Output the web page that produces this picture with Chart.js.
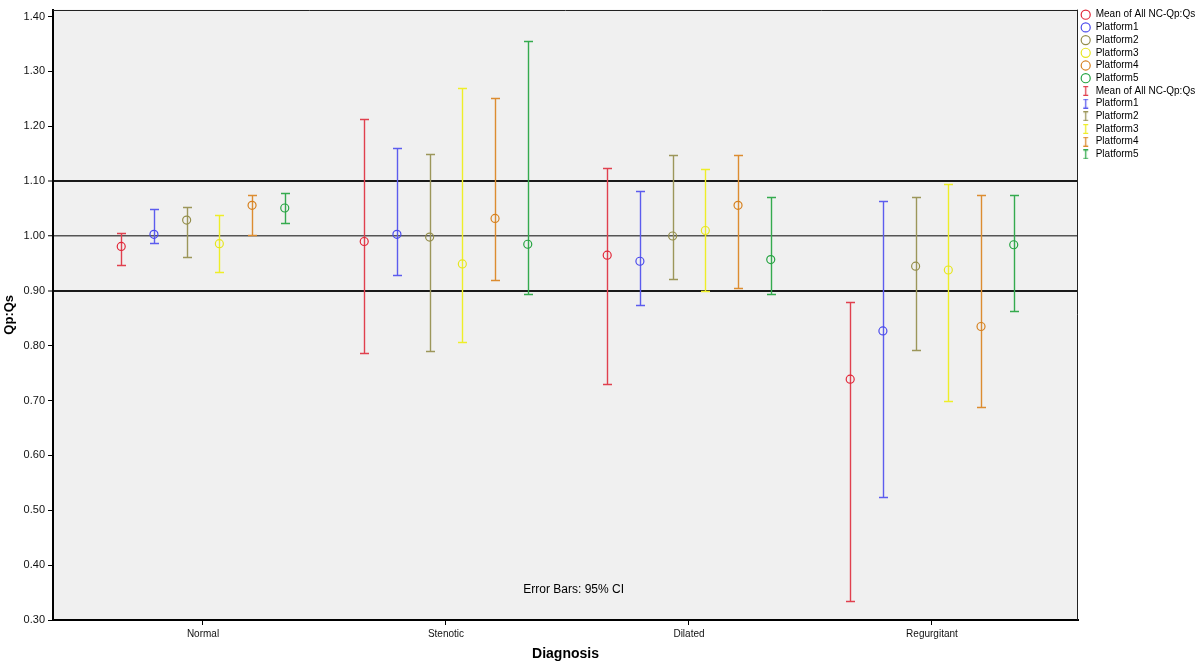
<!DOCTYPE html>
<html><head><meta charset="utf-8">
<script src="https://cdn.jsdelivr.net/npm/chart.js@4.4.1/dist/chart.umd.min.js"></script>
<style>html,body{margin:0;padding:0;background:#fff;}</style>
</head><body>
<canvas id="c" width="1200" height="670"></canvas>
<script>
// ---- data ----
const categories = ['Normal', 'Stenotic', 'Dilated', 'Regurgitant'];
const seriesNames = ['Mean of All NC-Qp:Qs', 'Platform1', 'Platform2', 'Platform3', 'Platform4', 'Platform5'];

const meanAll = [0.981, 0.990, 0.965, 0.739];
const platform1 = [1.003, 1.003, 0.954, 0.827];
const platform2 = [1.029, 0.998, 1.000, 0.945];
const platform3 = [0.986, 0.949, 1.010, 0.938];
const platform4 = [1.056, 1.032, 1.056, 0.835];
const platform5 = [1.051, 0.985, 0.957, 0.984];

const meanAllLow = [0.947, 0.787, 0.730, 0.334];
const platform1Low = [0.988, 0.928, 0.875, 0.525];
const platform2Low = [0.962, 0.790, 0.922, 0.793];
const platform3Low = [0.934, 0.807, 0.899, 0.700];
const platform4Low = [1.001, 0.920, 0.905, 0.688];
const platform5Low = [1.024, 0.895, 0.895, 0.864];

const meanAllHigh = [1.006, 1.214, 1.124, 0.880];
const platform1High = [1.049, 1.160, 1.082, 1.064];
const platform2High = [1.053, 1.149, 1.147, 1.071];
const platform3High = [1.038, 1.269, 1.123, 1.095];
const platform4High = [1.074, 1.251, 1.147, 1.074];
const platform5High = [1.078, 1.356, 1.071, 1.075];

const yTickValues = [0.30, 0.40, 0.50, 0.60, 0.70, 0.80, 0.90, 1.00, 1.10, 1.20, 1.30, 1.40];
const yTickLabels = ['0.30', '0.40', '0.50', '0.60', '0.70', '0.80', '0.90', '1.00', '1.10', '1.20', '1.30', '1.40'];
const refLines = [0.90, 1.00, 1.10];
const noteText = 'Error Bars: 95% CI';

// ---- styles ----
const FONT = '"Liberation Sans", Arial, Helvetica, sans-serif';
const markerColors = ['#e2283a', '#4a4aec', '#948e4c', '#e6e620', '#d6801e', '#26a442'];
const barColors = ['#e0404e', '#5c5cee', '#9c965a', '#eeee28', '#dc8c30', '#34aa4e'];
const DODGE = 0.1346;

const means = [meanAll, platform1, platform2, platform3, platform4, platform5];
const lows = [meanAllLow, platform1Low, platform2Low, platform3Low, platform4Low, platform5Low];
const highs = [meanAllHigh, platform1High, platform2High, platform3High, platform4High, platform5High];

Chart.defaults.font.family = FONT;
Chart.defaults.color = '#000';

const datasets = seriesNames.map((name, s) => ({
  label: name,
  data: categories.map((c, i) => ({ x: i + (s - 2.5) * DODGE, y: means[s][i] })),
  low: lows[s],
  high: highs[s],
  barColor: barColors[s],
  showLine: false,
  pointStyle: 'circle',
  pointRadius: 4,
  pointHoverRadius: 4,
  pointBorderWidth: 1.2,
  borderColor: markerColors[s],
  pointBorderColor: markerColors[s],
  backgroundColor: 'rgba(0,0,0,0)',
  pointBackgroundColor: 'rgba(0,0,0,0)'
}));

function iconCanvas(color) {
  const cv = document.createElement('canvas');
  cv.width = 7; cv.height = 10;
  const g = cv.getContext('2d');
  g.strokeStyle = color; g.lineWidth = 1.3;
  g.beginPath();
  g.moveTo(1, 0.7); g.lineTo(6, 0.7);
  g.moveTo(3.5, 0.7); g.lineTo(3.5, 9.3);
  g.moveTo(1, 9.3); g.lineTo(6, 9.3);
  g.stroke();
  return cv;
}

const plotBg = {
  id: 'plotBg',
  beforeDraw(chart) {
    const { ctx, chartArea: a } = chart;
    ctx.save();
    ctx.fillStyle = '#f0f0f0';
    ctx.fillRect(a.left, a.top, a.right - a.left, a.bottom - a.top);
    ctx.restore();
  }
};

const errorBars = {
  id: 'errorBars',
  beforeDatasetsDraw(chart) {
    const { ctx } = chart;
    const ys = chart.scales.y;
    ctx.save();
    ctx.lineWidth = 1.4;
    chart.data.datasets.forEach((ds, s) => {
      const meta = chart.getDatasetMeta(s);
      ctx.strokeStyle = ds.barColor;
      meta.data.forEach((pt, j) => {
        const x = Math.round(pt.x) + 0.5;
        const yl = Math.round(ys.getPixelForValue(ds.low[j])) + 0.5;
        const yh = Math.round(ys.getPixelForValue(ds.high[j])) + 0.5;
        ctx.beginPath();
        ctx.moveTo(x, yh); ctx.lineTo(x, yl);
        ctx.moveTo(x - 4.5, yh); ctx.lineTo(x + 4.5, yh);
        ctx.moveTo(x - 4.5, yl); ctx.lineTo(x + 4.5, yl);
        ctx.stroke();
      });
    });
    ctx.restore();
  }
};

const frameNote = {
  id: 'frameNote',
  afterDraw(chart) {
    const { ctx, chartArea: a } = chart;
    ctx.save();
    ctx.strokeStyle = '#222';
    ctx.lineWidth = 1;
    ctx.beginPath();
    ctx.moveTo(a.left, Math.round(a.top) + 0.5); ctx.lineTo(a.right, Math.round(a.top) + 0.5);
    ctx.moveTo(Math.round(a.right) - 0.5, a.top); ctx.lineTo(Math.round(a.right) - 0.5, a.bottom);
    ctx.stroke();
    ctx.fillStyle = '#000';
    ctx.font = '12px ' + FONT;
    ctx.textAlign = 'center';
    ctx.textBaseline = 'middle';
    ctx.fillText(noteText, a.left + 0.508 * (a.right - a.left), a.bottom - 30);
    ctx.restore();
  }
};

function isRef(v) { return refLines.some(r => Math.abs(r - v) < 1e-6); }

new Chart(document.getElementById('c'), {
  type: 'scatter',
  data: { datasets },
  options: {
    responsive: false,
    devicePixelRatio: 1,
    animation: false,
    layout: { padding: { top: 7, left: 0, right: 0, bottom: 0 } },
    plugins: {
      tooltip: { enabled: false },
      legend: {
        position: 'right',
        align: 'start',
        maxWidth: 122,
        onClick: null,
        labels: {
          usePointStyle: true,
          boxWidth: 10,
          boxHeight: 6.4,
          padding: 2.7,
          color: '#000',
          font: { size: 10, family: FONT },
          generateLabels: () => {
            const items = [];
            seriesNames.forEach((n, i) => items.push({
              text: n, fillStyle: 'rgba(0,0,0,0)', strokeStyle: markerColors[i], lineWidth: 1.2,
              pointStyle: 'circle', hidden: false, datasetIndex: i, fontColor: '#000'
            }));
            seriesNames.forEach((n, i) => items.push({
              text: n, fillStyle: 'rgba(0,0,0,0)', strokeStyle: barColors[i], lineWidth: 1,
              pointStyle: iconCanvas(barColors[i]), hidden: false, datasetIndex: i, fontColor: '#000'
            }));
            return items;
          }
        }
      }
    },
    scales: {
      x: {
        type: 'linear',
        min: -0.6173,
        max: 3.601,
        afterBuildTicks: s => { s.ticks = categories.map((c, i) => ({ value: i })); },
        afterFit: s => { s.height = 50; },
        ticks: { callback: (v, i) => categories[i], autoSkip: false, maxRotation: 0, color: '#111', font: { size: 10 }, padding: 3 },
        grid: { drawOnChartArea: false, drawTicks: true, tickLength: 5, tickColor: '#000', color: '#000', tickWidth: 1 },
        border: { display: true, color: '#000', width: 2 },
        title: { display: true, text: 'Diagnosis', color: '#000', font: { size: 14, weight: 'bold' }, padding: { top: 4, bottom: 7 } }
      },
      y: {
        type: 'linear',
        min: 0.30,
        max: 1.4127,
        afterBuildTicks: s => { s.ticks = yTickValues.map(v => ({ value: v })); },
        afterFit: s => { s.width = 53; },
        ticks: { callback: (v, i) => yTickLabels[i], autoSkip: false, color: '#111', font: { size: 11 }, padding: 3 },
        grid: {
          drawOnChartArea: true,
          drawTicks: true,
          tickLength: 5,
          tickColor: '#000',
          tickWidth: 1,
          color: c => (c.tick && isRef(c.tick.value)) ? (Math.abs(c.tick.value - 1) < 1e-6 ? '#555' : '#1a1a1a') : 'rgba(0,0,0,0)',
          lineWidth: c => (c.tick && isRef(c.tick.value)) ? (Math.abs(c.tick.value - 1) < 1e-6 ? 1.5 : 2) : 1
        },
        border: { display: true, color: '#000', width: 2 },
        title: { display: true, text: 'Qp:Qs', color: '#000', font: { size: 13, weight: 'bold' }, padding: { top: 2, bottom: 0 } }
      }
    }
  },
  plugins: [plotBg, errorBars, frameNote]
});
</script>
</body></html>
